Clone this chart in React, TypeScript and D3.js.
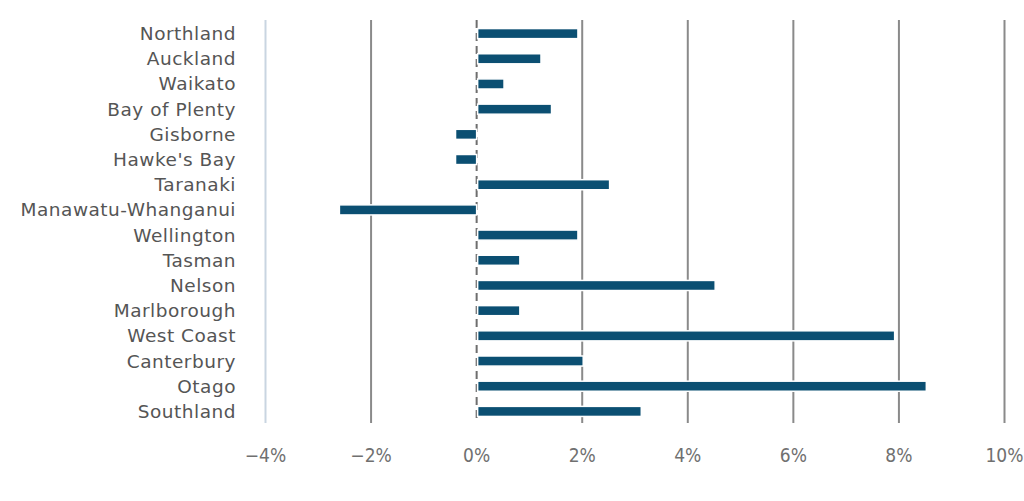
import * as d3 from "d3";
import { useEffect, useRef } from "react";

const regions = [
  "Northland",
  "Auckland",
  "Waikato",
  "Bay of Plenty",
  "Gisborne",
  "Hawke's Bay",
  "Taranaki",
  "Manawatu-Whanganui",
  "Wellington",
  "Tasman",
  "Nelson",
  "Marlborough",
  "West Coast",
  "Canterbury",
  "Otago",
  "Southland",
];
const growth = [1.9, 1.2, 0.5, 1.4, -0.4, -0.4, 2.5, -2.6, 1.9, 0.8, 4.5, 0.8, 7.9, 2.0, 8.5, 3.1];
const ticks = [-4, -2, 0, 2, 4, 6, 8, 10];

const App = () => {
  const svgRef = useRef<SVGSVGElement | null>(null);

  useEffect(() => {
    const width = 1024;
    const height = 501;
    const svg = d3.select(svgRef.current);
    svg.selectAll("*").remove();
    svg.attr("width", width).attr("height", height);

    const x = d3.scaleLinear().domain([-4, 10]).range([265.5, 1004.5]);
    const y = d3.scaleBand<string>().domain(regions).range([21, 424]).paddingInner(0.6).paddingOuter(0.3);

    // gridlines
    svg
      .append("g")
      .selectAll("line")
      .data(ticks)
      .enter()
      .append("line")
      .attr("x1", (d) => x(d))
      .attr("x2", (d) => x(d))
      .attr("y1", 20)
      .attr("y2", 423)
      .style("stroke", (d) => (d === -4 ? "#c9d5e1" : d === 0 ? "#6e6e6e" : "#8a8a8a"))
      .style("stroke-width", 2)
      .style("stroke-dasharray", (d) => (d === 0 ? "8,5" : null));

    // bars
    svg
      .append("g")
      .selectAll("rect")
      .data(regions)
      .enter()
      .append("rect")
      .attr("x", (_, i) => x(Math.min(0, growth[i])) + (growth[i] >= 0 ? 1 : 0))
      .attr("y", (d) => y(d)!)
      .attr("width", (_, i) => Math.abs(x(growth[i]) - x(0)))
      .attr("height", y.bandwidth())
      .style("fill", "#0b4f72")
      .style("stroke", "#ffffff")
      .style("stroke-width", 1.5);

    // category labels
    svg
      .append("g")
      .selectAll("text")
      .data(regions)
      .enter()
      .append("text")
      .attr("x", 236)
      .attr("y", (d) => y(d)! + y.bandwidth() / 2)
      .attr("dy", "0.35em")
      .attr("text-anchor", "end")
      .style("font-family", "'DejaVu Sans', sans-serif")
      .style("font-size", "18.5px")
      .style("letter-spacing", "0.5px")
      .style("fill", "#555555")
      .text((d) => d);

    // tick labels
    svg
      .append("g")
      .selectAll("text")
      .data(ticks)
      .enter()
      .append("text")
      .attr("x", (d) => x(d))
      .attr("y", 455)
      .attr("dy", "0.35em")
      .attr("text-anchor", "middle")
      .style("font-family", "'DejaVu Sans Condensed', 'DejaVu Sans', sans-serif")
      .style("font-size", "19px")
      .style("fill", "#707070")
      .text((d) => `${d < 0 ? "\u2212" : ""}${Math.abs(d)}%`);
  }, []);

  return <svg ref={svgRef} style={{ position: "absolute", left: 0, top: 0, background: "#fff" }} />;
};

export default App;
